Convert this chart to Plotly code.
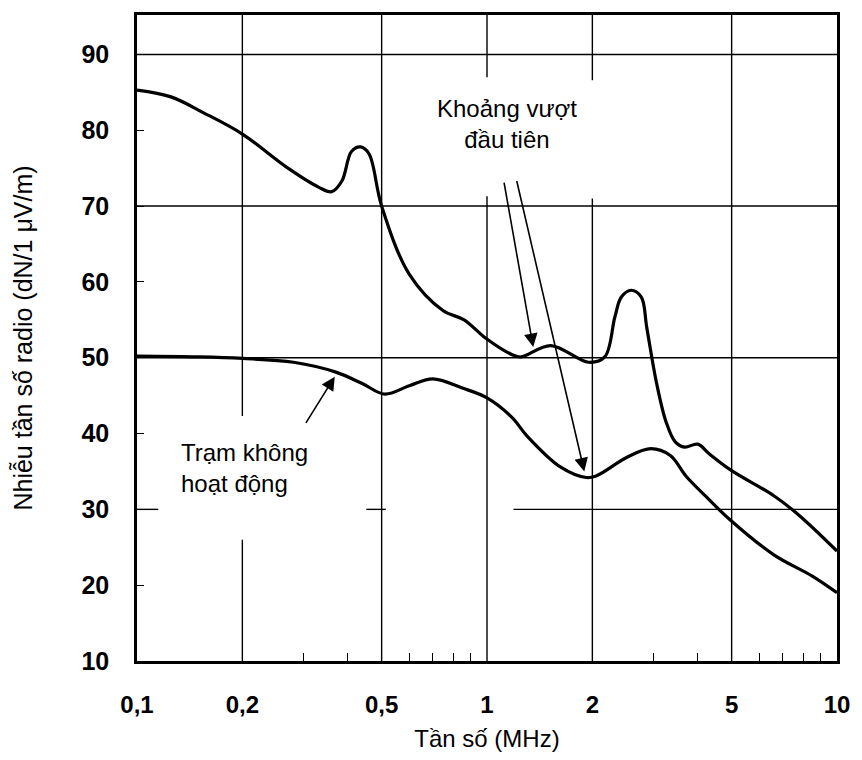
import math
import plotly.graph_objects as go

# ---------------- data ----------------
freq_active = [0.1, 0.125, 0.155, 0.2, 0.27, 0.33, 0.36, 0.385, 0.41, 0.435, 0.46, 0.5,
               0.6, 0.75, 0.86, 0.99, 1.18, 1.25, 1.52, 1.95, 2.17, 2.32, 2.42, 2.58,
               2.76, 2.86, 3.05, 3.25, 3.45, 3.67, 4.0, 4.32, 5.0, 6.6, 7.8, 10.0]
noise_active = [85.3, 84.4, 82.3, 79.5, 75.0, 72.5, 71.9, 73.3, 77.2, 77.8, 76.9, 70.0,
                61.0, 56.2, 55.0, 52.6, 50.4, 50.1, 51.6, 49.4, 50.1, 55.4, 58.0, 58.9,
                58.0, 54.0, 46.7, 41.5, 38.9, 38.2, 38.6, 37.3, 35.1, 31.8, 29.2, 24.5]

freq_idle = [0.1, 0.15, 0.2, 0.28, 0.37, 0.44, 0.51, 0.6, 0.7, 0.85, 1.0, 1.18, 1.3,
             1.62, 1.92, 2.05, 2.52, 2.94, 3.34, 3.7, 4.2, 4.9, 6.6, 8.5, 10.0]
noise_idle = [50.2, 50.1, 49.9, 49.4, 48.1, 46.6, 45.2, 46.3, 47.2, 46.0, 44.7, 42.1, 39.7,
              35.6, 34.2, 34.4, 36.9, 38.0, 37.1, 34.4, 31.8, 28.8, 24.0, 21.2, 19.0]

x_tick_vals = [0.1, 0.2, 0.5, 1, 2, 5, 10]
x_tick_text = ["0,1", "0,2", "0,5", "1", "2", "5", "10"]
x_minor_vals = [0.3, 0.4, 0.6, 0.7, 0.8, 0.9, 3, 4, 6, 7, 8, 9]
y_tick_vals = [10, 20, 30, 40, 50, 60, 70, 80, 90]

# ---------------- styling ----------------
FONT = "Liberation Sans, Arial, sans-serif"
Y_MIN, Y_MAX = 10, 95.2
X_MIN, X_MAX = 0.1, 10

fig = go.Figure()
for fx, fy in [(freq_active, noise_active), (freq_idle, noise_idle)]:
    fig.add_trace(go.Scatter(x=fx, y=fy, mode="lines",
                             line=dict(color="black", width=3.2, shape="spline", smoothing=1.0),
                             showlegend=False, hoverinfo="skip"))

# invisible trace to carry minor ticks on an overlay axis
fig.add_trace(go.Scatter(x=[X_MIN, X_MAX], y=[Y_MIN, Y_MIN], xaxis="x2", mode="lines",
                         line=dict(width=0), showlegend=False, hoverinfo="skip"))

# grid segments (gaps as in the original scan); shapes use data values
grid_line = dict(color="black", width=1.4)
vertical_segments = [
    (0.2, 42.3, Y_MAX), (0.2, Y_MIN, 26.0),
    (0.5, Y_MIN, Y_MAX),
    (1, Y_MIN, 71.3), (1, 87.0, Y_MAX),
    (2, Y_MIN, 71.0), (2, 86.6, Y_MAX),
    (5, Y_MIN, Y_MAX),
]
shapes = []
for fv, y0, y1 in vertical_segments:
    shapes.append(dict(type="line", xref="x", yref="y", x0=fv, x1=fv,
                       y0=y0, y1=y1, line=grid_line, layer="below"))
horizontal_segments = [
    (90, X_MIN, X_MAX), (70, X_MIN, X_MAX), (50, X_MIN, X_MAX),
    (30, X_MIN, 0.115), (30, 0.452, 0.514), (30, 1.19, X_MAX),
]
for yv, x0, x1 in horizontal_segments:
    shapes.append(dict(type="line", xref="x", yref="y", x0=x0, x1=x1,
                       y0=yv, y1=yv, line=grid_line, layer="below"))

# annotations (positions on the log axis are given as log10 values)
annotations = [
    dict(x=0.056, y=80.85, xref="x", yref="y", text="Khoảng vượt<br>đầu tiên",
         showarrow=False, font=dict(family=FONT, size=24, color="black"), align="center"),
    dict(x=-0.879, y=35.4, xref="x", yref="y", text="Trạm không<br>hoạt động",
         showarrow=False, xanchor="left", align="left",
         font=dict(family=FONT, size=24, color="black")),
]
arrows = [
    ((0.132, 51.4), (0.048, 73.3)),
    ((0.278, 35.0), (0.084, 73.5)),
    ((-0.435, 47.5), (-0.52, 41.2)),
]
for (tx, ty), (sx, sy) in arrows:
    annotations.append(dict(x=tx, y=ty, ax=sx, ay=sy, xref="x", yref="y",
                            axref="x", ayref="y", text="", showarrow=True,
                            arrowhead=2, arrowsize=1.7, arrowwidth=1.6,
                            arrowcolor="black", standoff=0))

fig.update_layout(
    width=862, height=760,
    margin=dict(l=137, r=12, t=12, b=96),
    paper_bgcolor="white", plot_bgcolor="white",
    font=dict(family=FONT, color="black"),
    shapes=shapes, annotations=annotations,
    xaxis=dict(type="log", range=[-1, 1], tickvals=x_tick_vals, ticktext=x_tick_text,
               showgrid=False, zeroline=False, showline=True, linecolor="black",
               linewidth=2.5, mirror=True, ticks="", ticklabelstandoff=20,
               tickfont=dict(family=FONT, size=24, color="black", weight="bold"),
               title=dict(text="Tần số (MHz)", standoff=14,
                          font=dict(family=FONT, size=24, color="black"))),
    xaxis2=dict(type="log", range=[-1, 1], overlaying="x", side="bottom",
                tickvals=x_minor_vals, ticks="inside", ticklen=8, tickwidth=1.4,
                tickcolor="black", showticklabels=False, showgrid=False,
                zeroline=False, showline=False),
    yaxis=dict(range=[Y_MIN, Y_MAX], tickvals=y_tick_vals, showgrid=False, zeroline=False,
               showline=True, linecolor="black", linewidth=2.5, mirror=True,
               ticks="inside", ticklen=7, tickwidth=1.4, tickcolor="black",
               ticklabelstandoff=20,
               tickfont=dict(family=FONT, size=25, color="black", weight="bold"),
               title=dict(text="Nhiễu tần số radio (dN/1 μV/m)", standoff=42,
                          font=dict(family=FONT, size=25, color="black"))),
)

fig.write_html("out.html")
